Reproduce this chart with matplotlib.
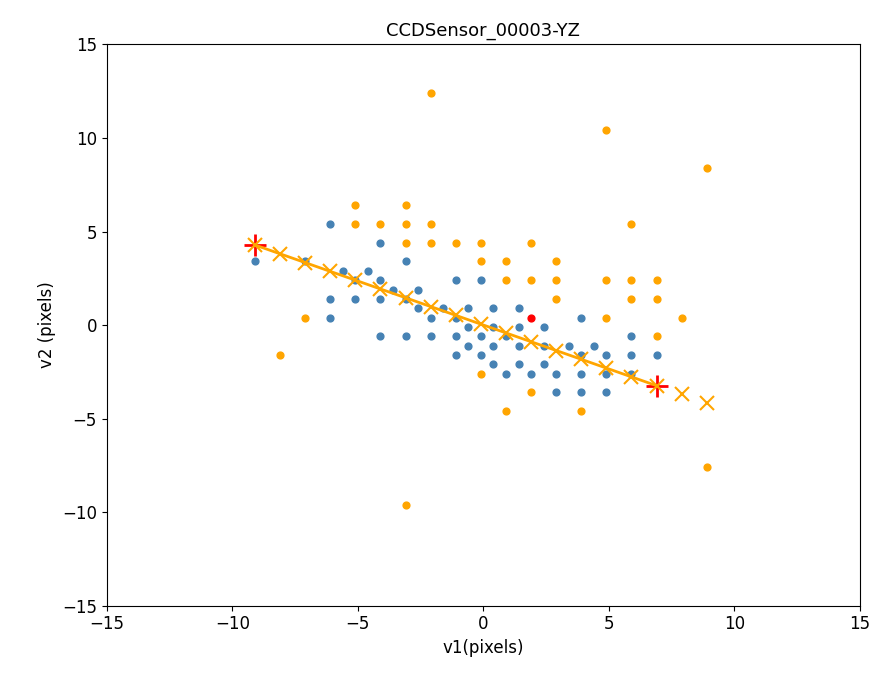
import matplotlib.pyplot as plt
import numpy as np

# blue points (pixels of the sensor)
blue_x = [-6.1,
          -4.1,
          -9.1, -7.1, -3.1,
          -5.6, -4.6,
          -5.1, -4.1, -1.1, -0.1,
          -3.6, -2.6,
          -6.1, -5.1, -4.1, -3.1,
          -2.6, -1.6, -0.6, 0.4, 1.4,
          -6.1, -2.1, -1.1, 3.9,
          -0.6, 0.4, 1.4, 2.4,
          -4.1, -3.1, -2.1, -1.1, -0.1, 0.9, 5.9,
          -0.6, 0.4, 1.4, 2.4, 3.4, 4.4,
          -1.1, -0.1, 3.9, 4.9, 5.9, 6.9,
          0.4, 1.4, 2.4,
          0.9, 1.9, 2.9, 3.9, 4.9, 5.9,
          2.9, 3.9, 4.9]
blue_y = [5.4,
          4.4,
          3.4, 3.4, 3.4,
          2.9, 2.9,
          2.4, 2.4, 2.4, 2.4,
          1.9, 1.9,
          1.4, 1.4, 1.4, 1.4,
          0.9, 0.9, 0.9, 0.9, 0.9,
          0.4, 0.4, 0.4, 0.4,
          -0.1, -0.1, -0.1, -0.1,
          -0.6, -0.6, -0.6, -0.6, -0.6, -0.6, -0.6,
          -1.1, -1.1, -1.1, -1.1, -1.1, -1.1,
          -1.6, -1.6, -1.6, -1.6, -1.6, -1.6,
          -2.1, -2.1, -2.1,
          -2.6, -2.6, -2.6, -2.6, -2.6, -2.6,
          -3.6, -3.6, -3.6]

# orange points
orange_x = [-2.1, 4.9, 8.9,
            -5.1, -3.1,
            -5.1, -4.1, -3.1, -2.1, 5.9,
            -3.1, -2.1, -1.1, -0.1, 1.9,
            -0.1, 0.9, 2.9,
            0.9, 1.9, 2.9, 4.9, 5.9, 6.9,
            2.9, 5.9, 6.9,
            -7.1, 4.9, 7.9,
            6.9,
            -8.1,
            -0.1,
            1.9,
            0.9, 3.9,
            8.9, -3.1]
orange_y = [12.4, 10.4, 8.4,
            6.4, 6.4,
            5.4, 5.4, 5.4, 5.4, 5.4,
            4.4, 4.4, 4.4, 4.4, 4.4,
            3.4, 3.4, 3.4,
            2.4, 2.4, 2.4, 2.4, 2.4, 2.4,
            1.4, 1.4, 1.4,
            0.4, 0.4, 0.4,
            -0.6,
            -1.6,
            -2.6,
            -3.6,
            -4.6, -4.6,
            -7.6, -9.6]

# centroid
red_x = [1.9]
red_y = [0.4]

# fitted track points
fit_x = [-9.1, -8.1, -7.1, -6.1, -5.1, -4.1, -3.1, -2.1, -1.1, -0.1,
         0.9, 1.9, 2.9, 3.9, 4.9, 5.9, 6.9, 7.9, 8.9]
fit_y = [4.28, 3.81, 3.34, 2.87, 2.40, 1.93, 1.46, 0.99, 0.52, 0.05,
         -0.42, -0.89, -1.36, -1.83, -2.30, -2.77, -3.24, -3.71, -4.18]

# track end points
end_x = [-9.1, 6.9]
end_y = [4.28, -3.24]

fig = plt.figure(figsize=(8.77, 6.73), dpi=100)
ax = fig.add_axes([0.1217, 0.1, 0.8589, 0.834])

ax.scatter(blue_x, blue_y, s=24, color='steelblue', zorder=2)
ax.scatter(orange_x, orange_y, s=24, color='orange', zorder=2)
ax.scatter(red_x, red_y, s=24, color='red', zorder=2)
ax.plot(end_x, end_y, '+', color='red', markersize=16, mew=2, zorder=3)
ax.plot(fit_x[:17], fit_y[:17], '-', color='orange', lw=2, zorder=4)
ax.plot(fit_x, fit_y, 'x', color='orange', markersize=10, mew=1.5, zorder=5)

ax.set_xlim(-15, 15)
ax.set_ylim(-15, 15)
ax.set_xticks(np.arange(-15, 16, 5))
ax.set_yticks(np.arange(-15, 16, 5))
ax.tick_params(labelsize=12)
ax.set_title('CCDSensor_00003-YZ', fontsize=13)
ax.set_xlabel('v1(pixels)', fontsize=12)
ax.set_ylabel('v2 (pixels)', fontsize=12)

plt.savefig('out.png', dpi=100)
